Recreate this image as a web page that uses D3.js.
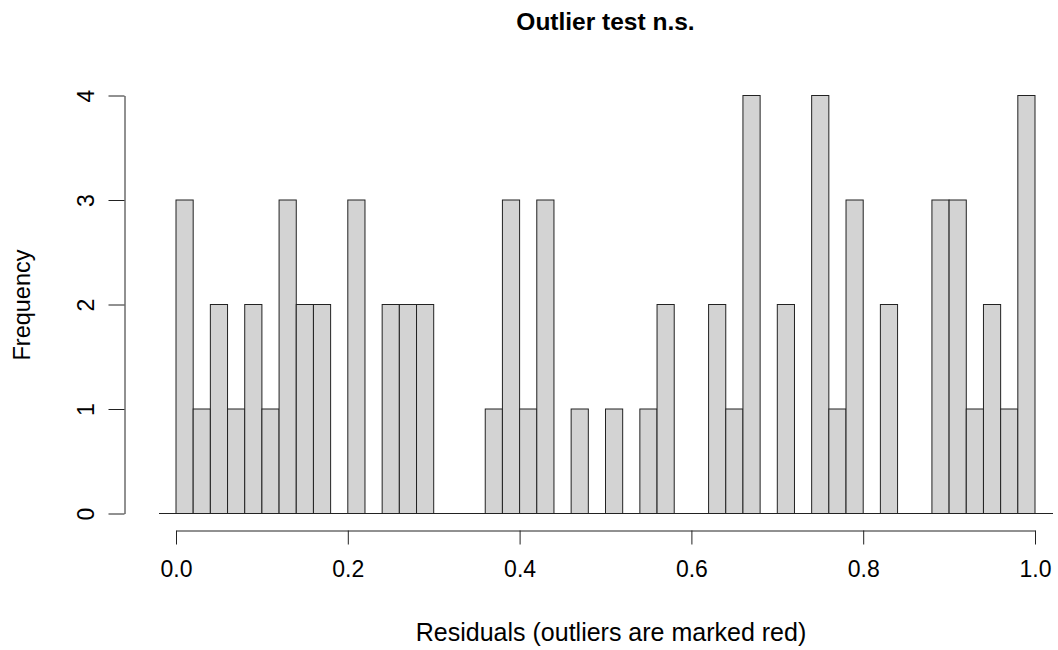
<!DOCTYPE html>
<html>
<head>
<meta charset="utf-8">
<script src="https://cdn.jsdelivr.net/npm/d3@7"></script>
<style>
    body { margin: 0; background: white; }
    svg { display: block; font-family: "Liberation Sans", Arial, sans-serif; }
</style>
</head>
<body>
<svg id="chart" width="1058" height="650"></svg>
<script>
// histogram counts, 50 bins of width 0.02 between 0 and 1
const counts = [3, 1, 2, 1, 2, 1, 3, 2, 2, 0,
                3, 0, 2, 2, 2, 0, 0, 0, 1, 3,
                1, 3, 0, 1, 0, 1, 0, 1, 2, 0,
                0, 2, 1, 4, 0, 2, 0, 4, 1, 3,
                0, 2, 0, 0, 3, 3, 1, 2, 1, 4];
const binWidth = 0.02;
const xTicks = [0, 0.2, 0.4, 0.6, 0.8, 1.0];
const yTicks = [0, 1, 2, 3, 4];

const title = "Outlier test n.s.";
const xLabel = "Residuals (outliers are marked red)";
const yLabel = "Frequency";

const svg = d3.select("#chart");

const x = d3.scaleLinear().domain([0, 1]).range([176, 1035]);
const y = d3.scaleLinear().domain([0, 4]).range([513.5, 95.5]);

const bins = counts.map((c, i) => ({ x0: i * binWidth, x1: (i + 1) * binWidth, n: c }));

// zero line across the plot region
svg.append("line")
    .attr("x1", 159).attr("x2", 1053)
    .attr("y1", y(0)).attr("y2", y(0))
    .attr("stroke", "#222").attr("stroke-width", 1);

svg.append("g")
    .selectAll("rect")
    .data(bins.filter(d => d.n > 0))
    .enter().append("rect")
    .attr("x", d => x(d.x0))
    .attr("y", d => y(d.n))
    .attr("width", d => x(d.x1) - x(d.x0))
    .attr("height", d => y(0) - y(d.n))
    .attr("fill", "#d3d3d3")
    .attr("stroke", "#222")
    .attr("stroke-width", 1);

// x axis
const xAxis = svg.append("g")
    .attr("transform", "translate(0,530.5)")
    .call(d3.axisBottom(x).tickValues(xTicks).tickFormat(d3.format(".1f")).tickSize(14).tickPadding(16).tickSizeOuter(0));
xAxis.select(".domain").attr("stroke", "#222");
xAxis.selectAll(".tick line").attr("stroke", "#222");
xAxis.selectAll("text")
    .attr("font-size", "23px")
    .attr("fill", "#000")
    .attr("font-family", "Liberation Sans, Arial, sans-serif");

// y axis
const yAxis = svg.append("g")
    .attr("transform", "translate(124.5,0)")
    .call(d3.axisLeft(y).tickValues(yTicks).tickFormat(d3.format("d")).tickSize(16).tickSizeOuter(0));
yAxis.select(".domain").attr("stroke", "#222");
yAxis.selectAll(".tick line").attr("stroke", "#222");
yAxis.selectAll("text")
    .attr("transform", "rotate(-90)")
    .attr("x", 0)
    .attr("y", -31)
    .attr("dy", null)
    .attr("text-anchor", "middle")
    .attr("font-size", "23px")
    .attr("fill", "#000")
    .attr("font-family", "Liberation Sans, Arial, sans-serif");

// titles
svg.append("text")
    .attr("x", 605.5).attr("y", 30)
    .attr("text-anchor", "middle")
    .attr("font-weight", "bold")
    .attr("font-size", "24.5px")
    .text(title);

svg.append("text")
    .attr("x", 611).attr("y", 641)
    .attr("text-anchor", "middle")
    .attr("font-size", "25px")
    .text(xLabel);

svg.append("text")
    .attr("transform", "translate(30,305) rotate(-90)")
    .attr("text-anchor", "middle")
    .attr("font-size", "23.5px")
    .text(yLabel);
</script>
</body>
</html>
